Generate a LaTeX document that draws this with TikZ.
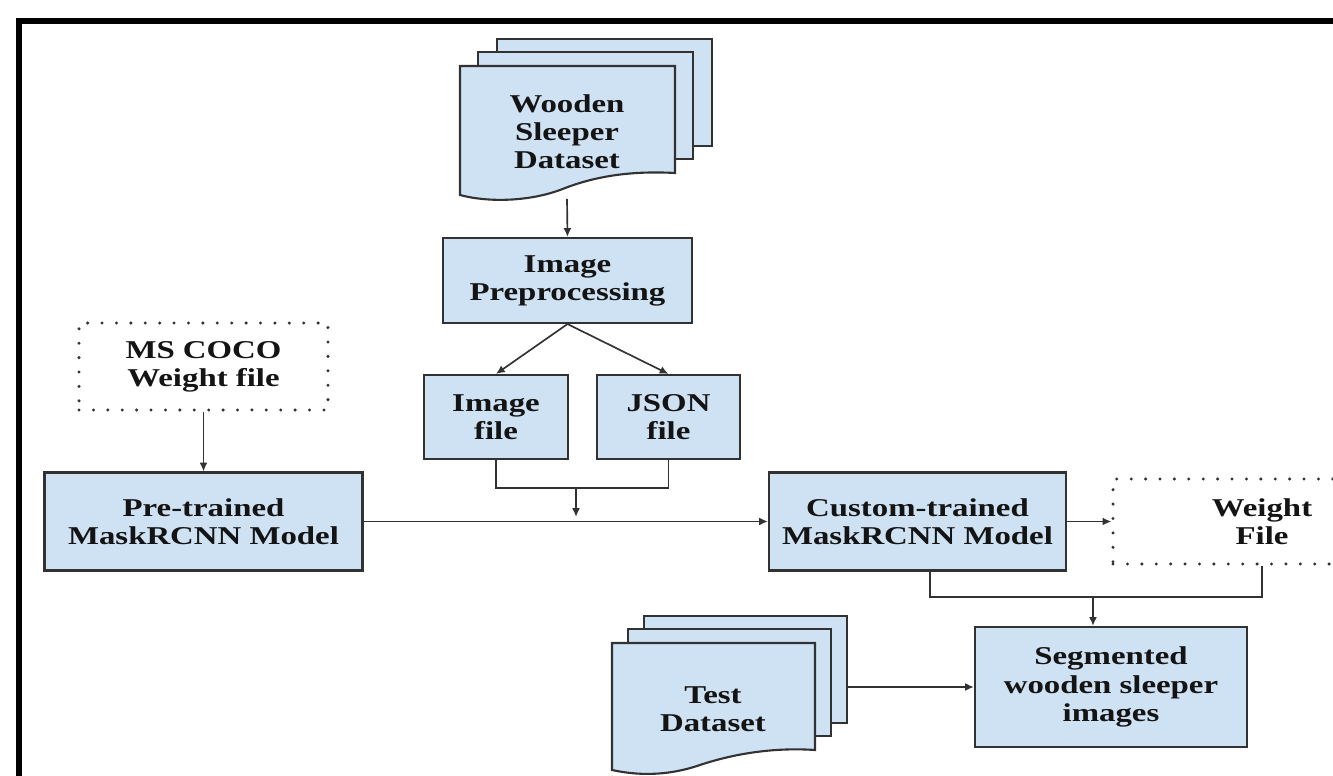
\documentclass[tikz,border=0pt]{standalone}
\usepackage{fontspec}
\setmainfont[FakeStretch=1.28]{Liberation Serif}
\usepackage{xcolor}
\definecolor{boxblue}{RGB}{207,226,243}
\definecolor{linegray}{RGB}{50,50,50}
\usetikzlibrary{arrows.meta, positioning, calc}

\begin{document}
\begin{tikzpicture}[
    x=0.02cm, y=-0.02cm,
    txt/.style={align=center, text=black!92,
                font=\fontsize{14.6}{16}\selectfont\bfseries},
    box/.style={txt, draw=linegray, fill=boxblue, line width=1.2pt, inner sep=0pt},
    dotbox/.style={txt, draw=linegray, line width=1.9pt, inner sep=0pt,
                   dash pattern=on 0pt off 8.2pt, line cap=round},
    sheet/.style={draw=linegray, fill=boxblue, line width=1.2pt},
    arr/.style={-{Latex[length=5pt,width=4.5pt]}, linegray, line width=0.95pt},
    wire/.style={-, linegray, line width=0.95pt}
  ]
  \useasboundingbox (0,0) rectangle (1333,776);
  % frame
  \draw[line width=3.4pt] (19,776) -- (19,21) -- (1333,21);

  % Wooden sleeper dataset (stack of sheets)
  \foreach \dx/\dy in {37/27, 18/14}
    \draw[sheet] (460+\dx,66-\dy) rectangle (675+\dx,173-\dy);
  \draw[sheet] (460,195) -- (460,66) -- (675,66) -- (675,173)
    .. controls (620,170) and (585,180) .. (560,190)
    .. controls (530,201) and (490,203) .. (460,195) -- cycle;
  \node[txt] (wsd) at (567,132) {Wooden\\Sleeper\\Dataset};
  \coordinate (wsdb) at (567,199);

  % Preprocessing
  \node[box, minimum width=4.98cm, minimum height=1.7cm] (prep) at (567.5,280.5) {Image\\Preprocessing};
  \node[box, minimum width=2.88cm, minimum height=1.68cm] (imgf) at (496,417) {Image\\file};
  \node[box, minimum width=2.86cm, minimum height=1.68cm] (jsonf) at (668.5,417) {JSON\\file};
  \draw[arr] (wsdb) -- (prep.north);
  \draw[arr] (prep.south) -- (imgf.north);
  \draw[arr] (prep.south) -- (jsonf.north);

  % Models
  \node[dotbox, minimum width=4.98cm, minimum height=1.74cm] (coco) at (203.5,366.5) {MS COCO\\Weight file};
  \node[box, minimum width=6.36cm, minimum height=1.96cm] (pre) at (203.5,521.5) {Pre-trained\\MaskRCNN Model};
  \node[box, minimum width=5.94cm, minimum height=1.96cm] (cus) at (917.5,521.5) {Custom-trained\\MaskRCNN Model};
  \begin{scope}
    \clip (0,0) rectangle (1333,776);
    \node[dotbox, minimum width=5.96cm, minimum height=1.7cm] (wf) at (1262,521.5) {Weight\\File};
  \end{scope}
  \draw[arr] (coco.south) -- (pre.north);
  \draw[arr] (pre) -- (cus);
  \draw[arr] (cus) -- (wf);

  \coordinate (mj) at (576,488);
  \coordinate (mjend) at (576,517);
  \draw[wire] (imgf.south) |- (mj) -| (jsonf.south);
  \draw[arr] (mj) -- (mjend);

  % Test dataset
  \foreach \dx/\dy in {32/27, 16/14}
    \draw[sheet] (612+\dx,643-\dy) rectangle (815+\dx,750-\dy);
  \draw[sheet] (612,770) -- (612,643) -- (815,643) -- (815,750)
    .. controls (770,747) and (730,755) .. (700,765)
    .. controls (665,777) and (635,775) .. (612,770) -- cycle;
  \node[txt] (test) at (713,709) {Test\\Dataset};
  \coordinate (tdr) at (847,687);

  % Output
  \node[box, minimum width=5.44cm, minimum height=2.4cm] (seg) at (1111,687) {Segmented\\wooden sleeper\\images};
  \coordinate (sj) at (1093,597);
  \draw[wire] ([xshift=0.25cm]cus.south) |- (sj) -| (wf.south);
  \draw[arr] (sj) -- (sj |- seg.north);
  \draw[arr] (tdr) -- (seg.west);
\end{tikzpicture}
\end{document}
